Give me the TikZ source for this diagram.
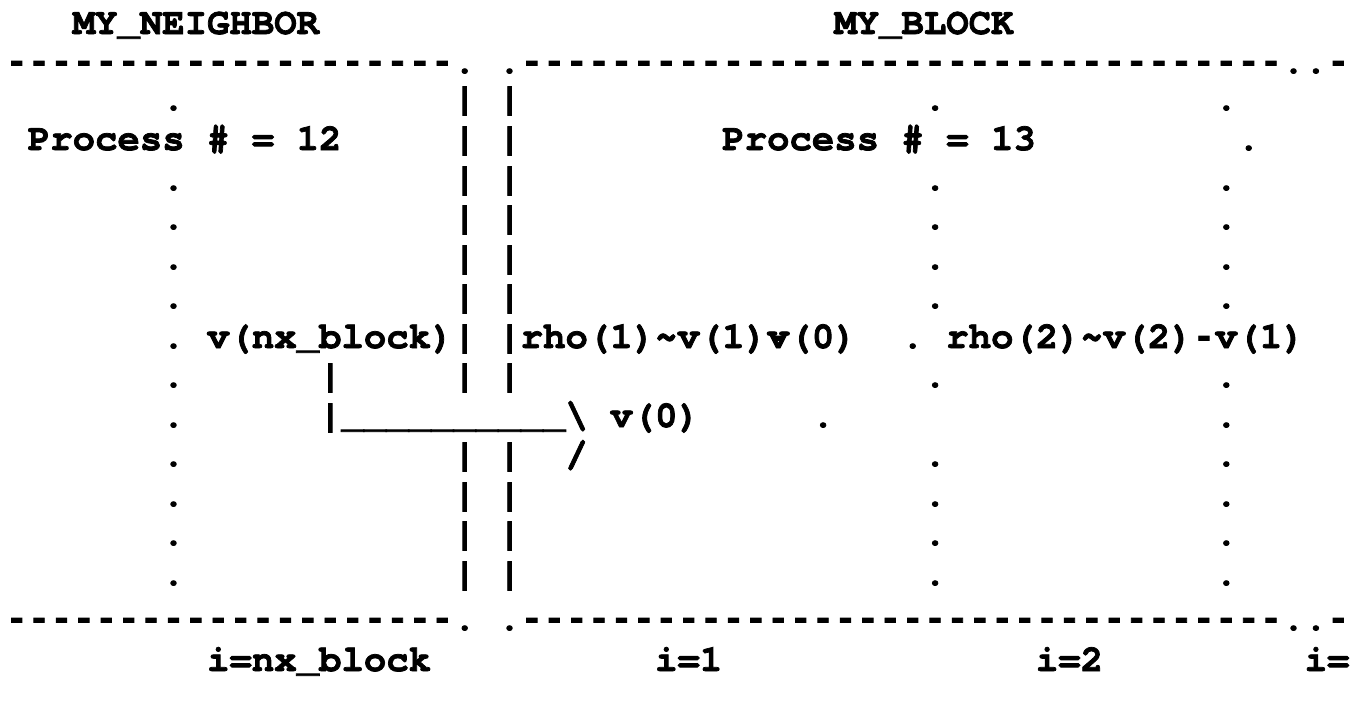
\documentclass[tikz,border=0pt]{standalone}
\usepackage{fontspec}
\newfontfamily\cour{texgyrecursor-bold.otf}[Ligatures=TeXOff, FakeBold=2]
\newfontfamily\lmono{Liberation Mono Bold}[Ligatures=TeXOff, FakeBold=2]
\newcommand\mytt{\cour\fontsize{37.33}{39.5}\selectfont}
\newcommand\mydash{\lmono\fontsize{37.33}{39.5}\selectfont}
% baselines of the 17 text rows (pixels from the top)
\newcommand\rowy[1]{\ifcase#1 34\or 73\or 110\or 150\or 190\or 229\or 269\or 308\or 348\or 387\or 427\or 466\or 506\or 545\or 585\or 630\or 671\fi}
\newcommand\chnode[4]{\node[chr] (#1) at ({5.5+22.4*(#2)},{-\rowy{#3}}) {#4};}
\newcommand\dsnode[4]{\node[chr,font=\mydash] (#1) at ({5.5+22.4*(#2)},{-\rowy{#3}}) {#4};}
\begin{document}
\begin{tikzpicture}[x=1pt,y=1pt,
  chr/.style={anchor=base west, inner sep=0pt, outer sep=0pt, font=\mytt, text=black}]
\useasboundingbox (0,0) rectangle (1359,-702);
% headings
\chnode{hN}{3}{0}{MY\_NEIGHBOR}
\chnode{hB}{37}{0}{MY\_BLOCK}
% frame lines (top row 1, bottom row 15)
\foreach \r/\n in {1/t,15/b}{
  \dsnode{\n L}{0}{\r}{--------------------}
  \chnode{\n p1}{20}{\r}{.}
  \chnode{\n p2}{22}{\r}{.}
  \dsnode{\n R}{23}{\r}{----------------------------------}
  \chnode{\n p3}{57}{\r}{..}
  \dsnode{\n E}{59}{\r}{-}
}
% dotted columns
\foreach \r in {2,4,5,6,7,8,9,10,11,12,13,14}{\chnode{dA\r}{7}{\r}{.}}
\foreach \r in {2,4,5,6,7,9,11,12,13,14}{\chnode{dB\r}{41}{\r}{.}}
\foreach \r in {2,4,5,6,7,9,10,11,12,13,14}{\chnode{dC\r}{54}{\r}{.}}
% double wall
\foreach \r in {2,3,4,5,6,7,8,9,11,12,13,14}{\chnode{wL\r}{20}{\r}{\textbar}\chnode{wR\r}{22}{\r}{\textbar}}
% texts
\chnode{p12}{1}{3}{Process \# = 12}
\chnode{p13}{32}{3}{Process \# = 13}
\chnode{d3}{55}{3}{.}
\chnode{vnx}{9}{8}{v(nx\_block)}
\chnode{rho1}{23}{8}{rho(1)\textasciitilde v(1)v(0)}
\dsnode{ovs}{34}{8}{-}
\chnode{d8}{40}{8}{.}
\chnode{rho2a}{42}{8}{rho(2)\textasciitilde v(2)}
\dsnode{rho2m}{53}{8}{-}
\chnode{rho2b}{54}{8}{v(1)}
\chnode{b9}{14}{9}{\textbar}
\chnode{arr}{14}{10}{\textbar\_\_\_\_\_\_\_\_\_\_\textbackslash}
\chnode{v0}{27}{10}{v(0)}
\chnode{d10}{36}{10}{.}
\chnode{sl}{25}{11}{/}
% indices
\chnode{inx}{9}{16}{i=nx\_block}
\chnode{i1}{29}{16}{i=1}
\chnode{i2}{46}{16}{i=2}
\chnode{i3}{58}{16}{i=}
\end{tikzpicture}
\end{document}
